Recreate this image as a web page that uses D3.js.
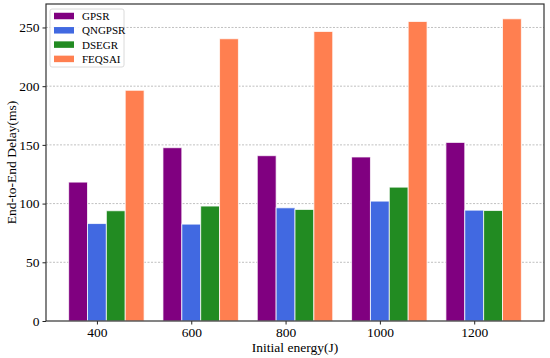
<!DOCTYPE html>
<html>
<head>
<meta charset="utf-8">
<script src="https://cdn.jsdelivr.net/npm/d3@7"></script>
<style>
  body { margin: 0; background: #fff; }
  text { font-family: "Liberation Serif", "Times New Roman", serif; }
  .tick line { stroke: #222; }
  .domain { display: none; }
</style>
</head>
<body>
<div id="chart"></div>
<script>
const energies = ["400", "600", "800", "1000", "1200"];
const seriesNames = ["GPSR", "QNGPSR", "DSEGR", "FEQSAI"];
const seriesColors = ["#800080", "#4169e1", "#228b22", "#ff7f50"];
const gpsr   = [118.3, 147.6, 140.8, 139.7, 152.1];
const qngpsr = [83.0, 82.5, 96.4, 102.1, 94.4];
const dsegr  = [93.9, 97.9, 95.0, 114.0, 94.1];
const feqsai = [196.5, 240.4, 246.6, 255.1, 257.4];
const yTicks = [0, 50, 100, 150, 200, 250];

const series = [gpsr, qngpsr, dsegr, feqsai];

const width = 550;
const height = 358;
const margin = {top: 4, left: 46, right: 6, bottom: 37};

const viz = d3.select("#chart")
    .append("svg")
    .attr("width", width)
    .attr("height", height);

// Scales (category index as a number, bars at i + k*0.2, tick at i + 0.2)
const barW = 0.2;
const xScale = d3.scaleLinear()
    .domain([-0.34, 4.94])
    .range([margin.left, width - margin.right]);

const yScale = d3.scaleLinear()
    .domain([0, 270])
    .range([height - margin.bottom, margin.top]);

// Grid
viz.append("g")
    .selectAll("line")
    .data(yTicks.filter(d => d > 0))
    .enter()
    .append("line")
    .attr("x1", margin.left)
    .attr("x2", width - margin.right)
    .attr("y1", d => yScale(d))
    .attr("y2", d => yScale(d))
    .attr("stroke", "#b0b0b0")
    .attr("stroke-width", 0.8)
    .attr("stroke-dasharray", "2,1.5");

// Bars
const flat = [];
series.forEach(function(vals, k) {
    vals.forEach(function(v, i) {
        flat.push({k: k, i: i, v: v});
    });
});

viz.append("g")
    .selectAll("rect")
    .data(flat)
    .enter()
    .append("rect")
    .attr("x", d => xScale(d.i + d.k * barW - barW / 2))
    .attr("width", d => xScale(barW) - xScale(0))
    .attr("y", d => yScale(d.v))
    .attr("height", d => yScale(0) - yScale(d.v))
    .attr("fill", d => seriesColors[d.k])
    .attr("stroke", "rgba(255,255,255,0.75)")
    .attr("stroke-width", 1);

// Axes
const xAxis = viz.append("g")
    .attr("transform", `translate(0,${height - margin.bottom})`)
    .call(d3.axisBottom(xScale)
        .tickValues(d3.range(energies.length).map(i => i + barW))
        .tickFormat((d, i) => energies[i])
        .tickSize(3.5)
        .tickPadding(3));

const yAxis = viz.append("g")
    .attr("transform", `translate(${margin.left},0)`)
    .call(d3.axisLeft(yScale)
        .tickValues(yTicks)
        .tickSize(3.5)
        .tickPadding(3));

xAxis.attr("font-family", "Liberation Serif, serif").attr("font-size", 13.5);
yAxis.attr("font-family", "Liberation Serif, serif").attr("font-size", 13.5);
viz.selectAll(".tick text").attr("fill", "#000");

// Frame
viz.append("rect")
    .attr("x", margin.left)
    .attr("y", margin.top)
    .attr("width", width - margin.left - margin.right)
    .attr("height", height - margin.top - margin.bottom)
    .attr("fill", "none")
    .attr("stroke", "#333")
    .attr("stroke-width", 1.2);

// Labels
viz.append("text")
    .attr("x", (margin.left + width - margin.right) / 2)
    .attr("y", 352)
    .attr("text-anchor", "middle")
    .attr("font-size", 13.5)
    .text("Initial energy(J)");

viz.append("text")
    .attr("transform", `translate(16,${(margin.top + height - margin.bottom) / 2}) rotate(-90)`)
    .attr("text-anchor", "middle")
    .attr("font-size", 13.5)
    .text("End-to-End Delay(ms)");

// Legend
const legend = viz.append("g").attr("transform", "translate(50,9)");
legend.append("rect")
    .attr("width", 74)
    .attr("height", 58)
    .attr("rx", 2)
    .attr("fill", "#fff")
    .attr("fill-opacity", 0.85)
    .attr("stroke", "#d0d0d0")
    .attr("stroke-width", 0.8);

const items = legend.selectAll(".item")
    .data(seriesNames)
    .enter()
    .append("g")
    .attr("transform", (d, i) => `translate(4,${7 + i * 14.3})`);

items.append("rect")
    .attr("width", 20)
    .attr("height", 6.5)
    .attr("y", -3.25)
    .attr("fill", (d, i) => seriesColors[i]);

items.append("text")
    .attr("x", 28)
    .attr("y", 4)
    .attr("font-size", 11)
    .text(d => d);
</script>
</body>
</html>
